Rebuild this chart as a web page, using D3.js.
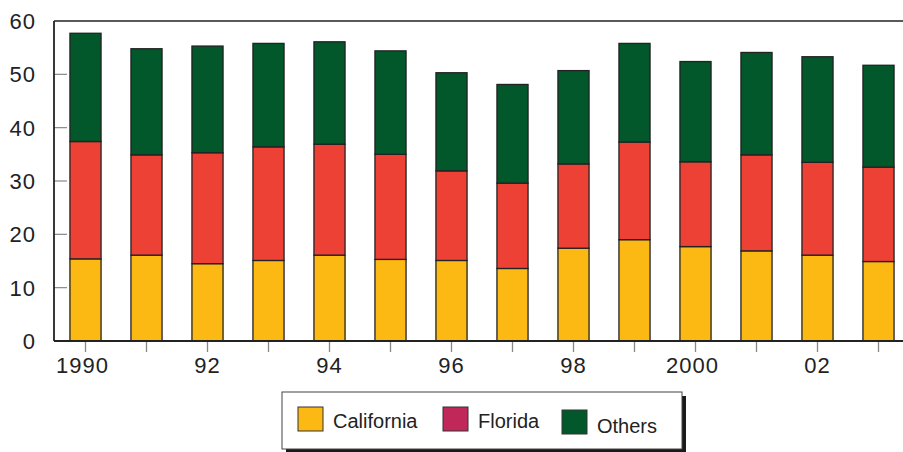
<!DOCTYPE html>
<html><head><meta charset="utf-8">
<script src="https://cdn.jsdelivr.net/npm/d3@7"></script>
<style>body{margin:0;background:#fff;} svg{display:block;font-family:"Liberation Sans",Arial,Helvetica,sans-serif;}</style>
</head><body><svg id="c" width="903" height="452"></svg>
<script>
const years = [1990,1991,1992,1993,1994,1995,1996,1997,1998,1999,2000,2001,2002,2003];
const yearLabels = ["1990","","92","","94","","96","","98","","2000","","02",""];
const california = [15.4,16.1,14.5,15.1,16.1,15.3,15.1,13.6,17.4,19.0,17.7,16.9,16.1,14.9];
const florida    = [22.0,18.8,20.8,21.3,20.8,19.7,16.8,16.0,15.8,18.3,15.9,18.0,17.4,17.7];
const others     = [20.3,19.9,20.0,19.4,19.2,19.4,18.4,18.5,17.5,18.5,18.8,19.2,19.8,19.1];
const seriesNames = ["California","Florida","Others"];
const barColors = ["#FDB913","#EE4136","#02582A"];
const legendColors = ["#FDB913","#C0285A","#02582A"];
const yTicks = [0,10,20,30,40,50,60];

(function(){
const svg = d3.select("#c");
const pLeft = 54, pTop = 21, pBottom = 341;
const x = d3.scaleBand().domain(years).range([55, 909]).paddingInner(0.49).paddingOuter(0.245);
const y = d3.scaleLinear().domain([0,60]).range([pBottom, pTop]);

const rows = years.map((yr,i)=>({year:yr, California:california[i], Florida:florida[i], Others:others[i]}));
const stack = d3.stack().keys(seriesNames)(rows);

// y ticks (inward gray)
svg.append("g").selectAll("line").data(yTicks.filter(d=>d>0&&d<60)).join("line")
  .attr("x1",pLeft).attr("x2",pLeft+13).attr("y1",d=>y(d)).attr("y2",d=>y(d))
  .attr("stroke","#888").attr("stroke-width",1.2);

// bars
svg.append("g").selectAll("g").data(stack).join("g")
  .attr("fill",(d,i)=>barColors[i])
  .selectAll("rect").data(d=>d).join("rect")
  .attr("x",d=>x(d.data.year)).attr("width",x.bandwidth())
  .attr("y",d=>y(d[1])).attr("height",d=>y(d[0])-y(d[1]))
  .attr("stroke","#222").attr("stroke-width",1.3);

// frame
svg.append("line").attr("x1",pLeft).attr("x2",903).attr("y1",pTop).attr("y2",pTop).attr("stroke","#222").attr("stroke-width",1.6);
svg.append("line").attr("x1",pLeft).attr("x2",pLeft).attr("y1",pTop).attr("y2",pBottom).attr("stroke","#222").attr("stroke-width",1.8);
svg.append("line").attr("x1",pLeft).attr("x2",903).attr("y1",pBottom).attr("y2",pBottom).attr("stroke","#222").attr("stroke-width",2);

// x ticks
svg.append("g").selectAll("line").data(years).join("line")
  .attr("x1",d=>x(d)+x.bandwidth()/2).attr("x2",d=>x(d)+x.bandwidth()/2)
  .attr("y1",pBottom+1).attr("y2",pBottom+11).attr("stroke","#888").attr("stroke-width",1.3);
svg.append("g").selectAll("text").data(years).join("text")
  .attr("x",d=>x(d)+x.bandwidth()/2).attr("y",373)
  .attr("dx",(d,i)=>yearLabels[i].length===4?-3:0)
  .attr("text-anchor","middle").attr("font-size",22).attr("letter-spacing",1).attr("fill","#222")
  .text((d,i)=>yearLabels[i]);

// y labels
svg.append("g").selectAll("text").data(yTicks).join("text")
  .attr("x",36).attr("y",d=>y(d)).attr("dy","0.36em")
  .attr("text-anchor","end").attr("font-size",22).attr("letter-spacing",1).attr("fill","#222")
  .text(d=>d);

// legend
const lg = svg.append("g");
lg.append("rect").attr("x",286).attr("y",396).attr("width",400).attr("height",57).attr("fill","#1a1a1a");
lg.append("rect").attr("x",282).attr("y",392).attr("width",400).attr("height",57).attr("fill","#fff").attr("stroke","#444").attr("stroke-width",1);
const legX = [298,443,562], legY=[407,407,410], txtX=[333,478,597], txtY=[428,428,433];
seriesNames.forEach((n,i)=>{
  lg.append("rect").attr("x",legX[i]).attr("y",legY[i]).attr("width",25).attr("height",24)
    .attr("fill",legendColors[i]).attr("stroke","#333").attr("stroke-width",1);
  lg.append("text").attr("x",txtX[i]).attr("y",txtY[i]).attr("font-size",20).attr("fill","#222").text(n);
});
})();
</script></body></html>
